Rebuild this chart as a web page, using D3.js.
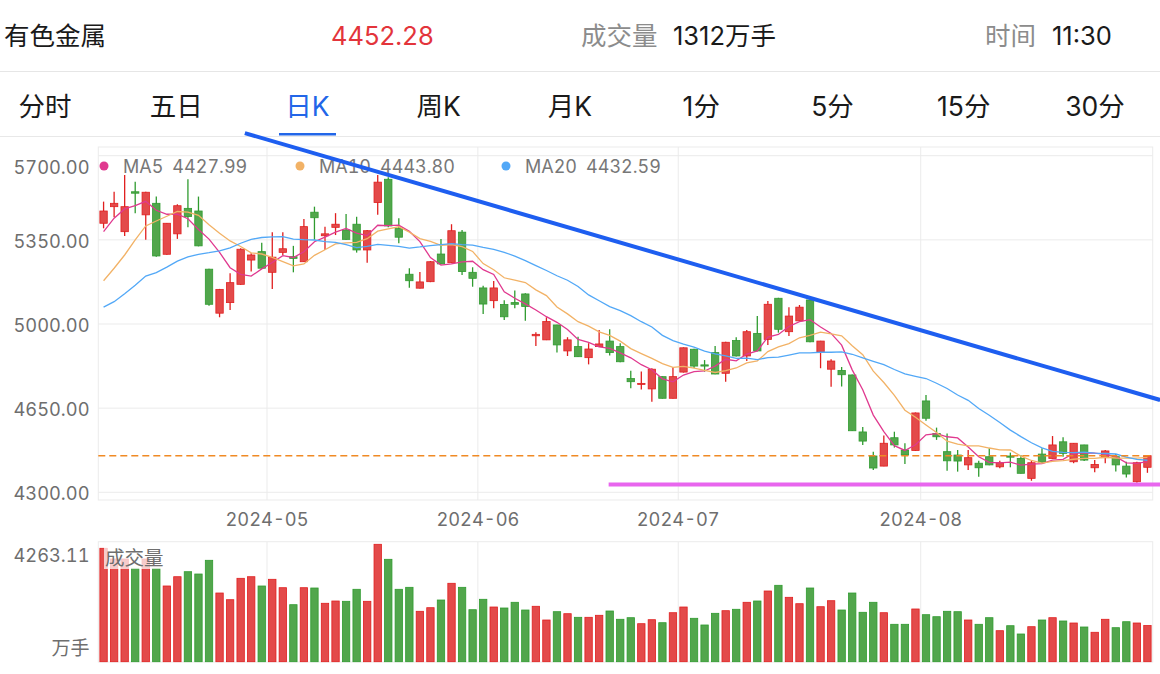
<!DOCTYPE html>
<html><head><meta charset="utf-8">
<script src="https://cdn.jsdelivr.net/npm/d3@7"></script>
<style>html,body{margin:0;padding:0;background:#fff;}svg{display:block;}.tn{font-feature-settings:"tnum" 1;}</style>
</head><body>
<svg id="chart" width="1160" height="674"></svg>
<script>
// ---------------- DATA ----------------
const dates = [
"2024-04-09","2024-04-10","2024-04-11","2024-04-12","2024-04-15","2024-04-16","2024-04-17","2024-04-18","2024-04-19","2024-04-22","2024-04-23","2024-04-24","2024-04-25","2024-04-26","2024-04-29","2024-04-30",
"2024-05-06","2024-05-07","2024-05-08","2024-05-09","2024-05-10","2024-05-13","2024-05-14","2024-05-15","2024-05-16","2024-05-17","2024-05-20","2024-05-21","2024-05-22","2024-05-23","2024-05-24","2024-05-27","2024-05-28","2024-05-29","2024-05-30","2024-05-31",
"2024-06-03","2024-06-04","2024-06-05","2024-06-06","2024-06-07","2024-06-11","2024-06-12","2024-06-13","2024-06-14","2024-06-17","2024-06-18","2024-06-19","2024-06-20","2024-06-21","2024-06-24","2024-06-25","2024-06-26","2024-06-27","2024-06-28",
"2024-07-01","2024-07-02","2024-07-03","2024-07-04","2024-07-05","2024-07-08","2024-07-09","2024-07-10","2024-07-11","2024-07-12","2024-07-15","2024-07-16","2024-07-17","2024-07-18","2024-07-19","2024-07-22","2024-07-23","2024-07-24","2024-07-25","2024-07-26","2024-07-29","2024-07-30","2024-07-31",
"2024-08-01","2024-08-02","2024-08-05","2024-08-06","2024-08-07","2024-08-08","2024-08-09","2024-08-12","2024-08-13","2024-08-14","2024-08-15","2024-08-16","2024-08-19","2024-08-20","2024-08-21","2024-08-22","2024-08-23","2024-08-26","2024-08-27","2024-08-28","2024-08-29","2024-08-30"];

const open = [5419,5488,5384,5550,5454,5502,5290,5375,5481,5470,
5228,5045,5089,5165,5266,5301,5215,5298,5280,5259,
5465,5367,5402,5391,5415,5308,5505,5602,5398,5207,
5149,5176,5291,5255,5382,5215,5150,5097,5081,5089,
5125,4951,4934,4996,4888,4906,4860,4906,4929,4906,
4773,4749,4730,4781,4691,4800,4895,4830,4881,4795,
4931,4867,4961,4936,5107,4968,5013,5100,4884,4812,
4807,4788,4551,4451,4409,4527,4476,4474,4680,4545,
4469,4455,4414,4421,4448,4406,4451,4441,4358,4459,
4441,4510,4427,4497,4402,4444,4448,4409,4344,4404];

const high = [5509,5550,5620,5592,5550,5530,5420,5498,5602,5530,
5230,5146,5211,5315,5294,5338,5382,5382,5325,5437,
5488,5405,5461,5458,5446,5391,5620,5610,5440,5232,
5216,5262,5354,5415,5391,5236,5159,5179,5099,5139,
5128,4966,5028,4997,4945,4947,4920,4975,4978,4920,
4806,4802,4816,4782,4820,4903,4897,4850,4909,4926,
4945,4975,5033,5096,5109,5070,5079,5102,4930,4853,
4821,4790,4572,4469,4536,4552,4504,4632,4705,4569,
4545,4476,4476,4431,4483,4431,4465,4455,4431,4483,
4534,4529,4505,4498,4434,4476,4459,4427,4427,4455];

const low = [5398,5444,5366,5461,5350,5280,5288,5354,5402,5323,
5076,5028,5058,5163,5218,5230,5146,5287,5215,5258,
5350,5308,5370,5350,5297,5255,5454,5402,5336,5151,
5148,5174,5248,5253,5204,5155,5042,5065,5017,5065,
5013,4909,4933,4881,4867,4863,4832,4905,4869,4841,
4733,4728,4677,4690,4690,4798,4817,4802,4791,4760,
4865,4846,4887,4913,4964,4950,5012,4924,4816,4739,
4740,4555,4497,4393,4408,4486,4418,4472,4598,4518,
4390,4386,4393,4365,4413,4400,4404,4378,4348,4421,
4440,4448,4421,4430,4383,4421,4386,4362,4340,4381];

const close = [5470,5502,5488,5544,5548,5283,5419,5492,5447,5325,
5082,5144,5172,5311,5287,5232,5278,5313,5273,5405,
5442,5375,5415,5352,5308,5388,5590,5408,5361,5180,
5175,5259,5250,5388,5218,5190,5083,5150,5030,5082,
5073,4957,5010,4913,4934,4864,4896,4917,4881,4843,
4760,4753,4812,4691,4781,4901,4825,4825,4792,4924,
4867,4968,4888,5082,4978,5033,5070,4926,4929,4846,
4789,4556,4513,4401,4504,4497,4455,4630,4608,4531,
4431,4430,4444,4402,4414,4423,4446,4379,4423,4425,
4497,4462,4504,4434,4416,4472,4414,4376,4423,4452.28];

// closes of the 19 sessions before the visible window (read back from the MA curves)
const priorCloses = [5042,4830,4830,4788,5003,4959,4992,5087,5125,4942,4982,4938,4919,4963,5078,5222,5295,5477,5456];

const volume = [4118,3729,3729,3391,3729,3391,2749,3086,3268,3184,
3682,2494,2251,3028,3086,2749,2992,2687,2070,2687,
2676,2121,2204,2193,2629,2193,4263.11,3718,2629,2701,
1830,1961,2240,2847,2701,1888,2266,1986,1950,2157,
1877,2012,1514,1816,1743,1612,1612,1685,1841,1540,
1598,1380,1525,1416,1779,1986,1576,1333,1757,1852,
1903,2157,2204,2567,2774,2338,2106,2676,1997,2215,
1877,2494,1794,2157,1779,1358,1358,1914,1707,1634,
1830,1816,1514,1358,1598,1126,1307,1006,1271,1514,
1598,1478,1405,1260,1068,1540,1235,1452,1405,1312];

const priceTicks = [4300, 4650, 5000, 5350, 5700];
const monthTicks = ["2024-05","2024-06","2024-07","2024-08"];
const volMaxLabel = "4263.11";
const volUnit = "万手";
const maPeriods = [5, 10, 20];
const maNames = ["MA5", "MA10", "MA20"];
const maLegendValues = ["4427.99", "4443.80", "4432.59"];
const tabs = ["分时","五日","日K","周K","月K","1分","5分","15分","30分"];
const activeTab = "日K";
const headerTexts = ["有色金属", "4452.28", "成交量", "1312万手", "时间", "11:30"];
const lastPrice = 4452.28;
// drawn annotation lines: [bar-index position, price]
const trendLine = [[13.9, 5794], [100.7, 4684]];
const supportLine = [[48.4, 4332], [100.7, 4332]];

// ---------------- STYLE ----------------
const FONT = "Inter, 'Noto Sans CJK SC', sans-serif";
const RED_F = "#e34a4a", RED_S = "#e01f1f", GRN_F = "#52a64c", GRN_S = "#2f9b2f";
const MA_COLORS = ["#e0398f", "#f2b266", "#52a8f7"];
const GRID = "#ebebeb";
const AX = 18.3;

const svg = d3.select("#chart");
const plot = {l: 98.3, r: 1152.7, t: 147, b: 500};
const vp = {t: 541.7, b: 662};

const x = d3.scaleBand().domain(dates).range([plot.l, plot.r]).padding(0);
const step = x.step(), bw = step * 0.7;
const cx = d => x(d) + step / 2;
const xi = d3.scaleLinear().domain([0, dates.length]).range([plot.l, plot.r]);
const y = d3.scaleLinear().domain([4300, 5700]).range([492.3, 155.7]);
const yv = d3.scaleLinear().domain([0, 4263.11]).range([661.7, 544.3]);

// ---------------- HEADER ----------------
const hx = [4, 331, 581, 673, 985, 1052];
const hc = ["#1a1a1a", "#e3343b", "#8c8c8c", "#1a1a1a", "#8c8c8c", "#1a1a1a"];
svg.selectAll("text.hdr").data(headerTexts).join("text").attr("class","hdr")
  .attr("x", (d,i)=>hx[i]).attr("y", 44.5).attr("font-family", FONT).attr("font-size", 25.5)
  .attr("fill", (d,i)=>hc[i]).text(d=>d);
svg.append("line").attr("x1",0).attr("x2",1160).attr("y1",71.5).attr("y2",71.5).attr("stroke","#e6e6e6");

const tx = d3.scalePoint().domain(tabs).range([45, 1095]);
svg.selectAll("text.tab").data(tabs).join("text").attr("class","tab")
  .attr("x", d=>tx(d)).attr("y", 115.5).attr("text-anchor","middle")
  .attr("font-family", FONT).attr("font-size", 26.5)
  .attr("fill", d=> d===activeTab ? "#2266e8" : "#1a1a1a").text(d=>d);
svg.append("rect").attr("x", tx(activeTab)-28.5).attr("y", 133).attr("width", 57).attr("height", 2.5).attr("fill","#2266e8");
svg.append("line").attr("x1",0).attr("x2",1160).attr("y1",136.5).attr("y2",136.5).attr("stroke","#e8e8e8");

// ---------------- GRID ----------------
const g = svg.append("g");
g.append("rect").attr("x",plot.l).attr("y",plot.t).attr("width",plot.r-plot.l).attr("height",plot.b-plot.t)
  .attr("fill","none").attr("stroke",GRID);
g.selectAll("line.hg").data(priceTicks).join("line").attr("class","hg")
  .attr("x1",plot.l).attr("x2",plot.r).attr("y1",d=>y(d)).attr("y2",d=>y(d)).attr("stroke",GRID);
const monthX = m => x(dates.find(d=>d.startsWith(m)));
g.selectAll("line.vg").data(monthTicks).join("line").attr("class","vg")
  .attr("x1",monthX).attr("x2",monthX).attr("y1",plot.t).attr("y2",plot.b).attr("stroke",GRID);
g.selectAll("line.vg2").data(monthTicks).join("line").attr("class","vg2")
  .attr("x1",monthX).attr("x2",monthX).attr("y1",vp.t).attr("y2",vp.b).attr("stroke",GRID);
g.append("rect").attr("x",plot.l).attr("y",vp.t).attr("width",plot.r-plot.l).attr("height",vp.b-vp.t)
  .attr("fill","none").attr("stroke",GRID);

// axis labels
const maxTick = d3.max(priceTicks);
g.selectAll("text.yl").data(priceTicks).join("text").attr("class","yl tn")
  .attr("x", 89.5).attr("y", d => d===maxTick ? y(d)+11.5 : y(d)+1)
  .attr("text-anchor","end").attr("dominant-baseline","central")
  .attr("font-family",FONT).attr("font-size",AX).attr("fill","#6e6e6e")
  .text(d=>d3.format(".2f")(d));
g.selectAll("text.xl").data(monthTicks).join("text").attr("class","xl tn")
  .attr("x", monthX).attr("y", 519).attr("text-anchor","middle").attr("dominant-baseline","central")
  .attr("font-family",FONT).attr("font-size",AX).attr("fill","#6e6e6e").text(d=>d);
g.append("text").attr("class","tn").attr("x",89.5).attr("y",555).attr("text-anchor","end").attr("dominant-baseline","central")
  .attr("font-family",FONT).attr("font-size",AX).attr("fill","#6e6e6e").text(volMaxLabel);
g.append("text").attr("x",89.5).attr("y",655).attr("text-anchor","end")
  .attr("font-family",FONT).attr("font-size",19).attr("fill","#6e6e6e").text(volUnit);

// ---------------- CANDLES ----------------
const candles = dates.map((d,i)=>({d, o:open[i], h:high[i], l:low[i], c:close[i], v:volume[i], up: close[i] >= open[i]}));
const cg = svg.append("g");
cg.selectAll("line.wick").data(candles).join("line").attr("class","wick")
  .attr("x1",d=>cx(d.d)).attr("x2",d=>cx(d.d)).attr("y1",d=>y(d.h)).attr("y2",d=>y(d.l))
  .attr("stroke",d=>d.up?RED_S:GRN_S).attr("stroke-width",1.3);
cg.selectAll("rect.body").data(candles).join("rect").attr("class","body")
  .attr("x",d=>cx(d.d)-bw/2).attr("width",bw)
  .attr("y",d=>y(Math.max(d.o,d.c))).attr("height",d=>Math.max(1, Math.abs(y(d.o)-y(d.c))))
  .attr("fill",d=>d.up?RED_F:GRN_F).attr("stroke",d=>d.up?RED_S:GRN_S).attr("stroke-width",0.8);

// ---------------- MOVING AVERAGES ----------------
const allCloses = priorCloses.concat(close);
const P = priorCloses.length;
const maSeries = maPeriods.map(n => close.map((c,i)=> d3.mean(allCloses.slice(P+i-n+1, P+i+1))));
const line = d3.line().x((v,i)=>cx(dates[i])).y(v=>y(v));
svg.append("g").selectAll("path").data(maSeries).join("path")
  .attr("d", line).attr("fill","none").attr("stroke",(d,i)=>MA_COLORS[i]).attr("stroke-width",1.3);

// ---------------- VOLUME ----------------
const vg = svg.append("g");
vg.selectAll("rect").data(candles).join("rect")
  .attr("x",d=>cx(d.d)-bw/2).attr("width",bw).attr("y",d=>yv(d.v)).attr("height",d=>yv(0)-yv(d.v))
  .attr("fill",d=>d.up?RED_F:GRN_F).attr("stroke",d=>d.up?RED_S:GRN_S).attr("stroke-width",0.8);
vg.append("rect").attr("x",104).attr("y",546).attr("width",64).attr("height",23).attr("fill","rgba(255,255,255,0.72)");
vg.append("text").attr("x",105).attr("y",565).attr("font-family",FONT).attr("font-size",19.5).attr("fill","#6e6e6e").text("成交量");

// ---------------- LEGEND ----------------
const lgX = [104, 300, 506];
const lg = svg.append("g");
maNames.forEach((n,i)=>{
  lg.append("circle").attr("cx",lgX[i]).attr("cy",166).attr("r",4.5).attr("fill",MA_COLORS[i]);
  const t = lg.append("text").attr("class","tn").attr("x",lgX[i]+19).attr("y",166).attr("dominant-baseline","central")
    .attr("font-family",FONT).attr("font-size",18).attr("fill","#777");
  t.append("tspan").text(n);
  t.append("tspan").attr("dx",9).text(maLegendValues[i]);
});

// ---------------- ANNOTATIONS ----------------
svg.append("line").attr("x1",plot.l).attr("x2",plot.r).attr("y1",y(lastPrice)).attr("y2",y(lastPrice))
  .attr("stroke","#f08a24").attr("stroke-width",1.6).attr("stroke-dasharray","7,4");
const al = d3.line().x(p=>xi(p[0])).y(p=>y(p[1]));
svg.append("path").attr("d",al(supportLine)).attr("stroke","#e866ee").attr("stroke-width",4).attr("fill","none");
svg.append("path").attr("d",al(trendLine)).attr("stroke","#1e5ef0").attr("stroke-width",4).attr("fill","none");
</script>
</body></html>
